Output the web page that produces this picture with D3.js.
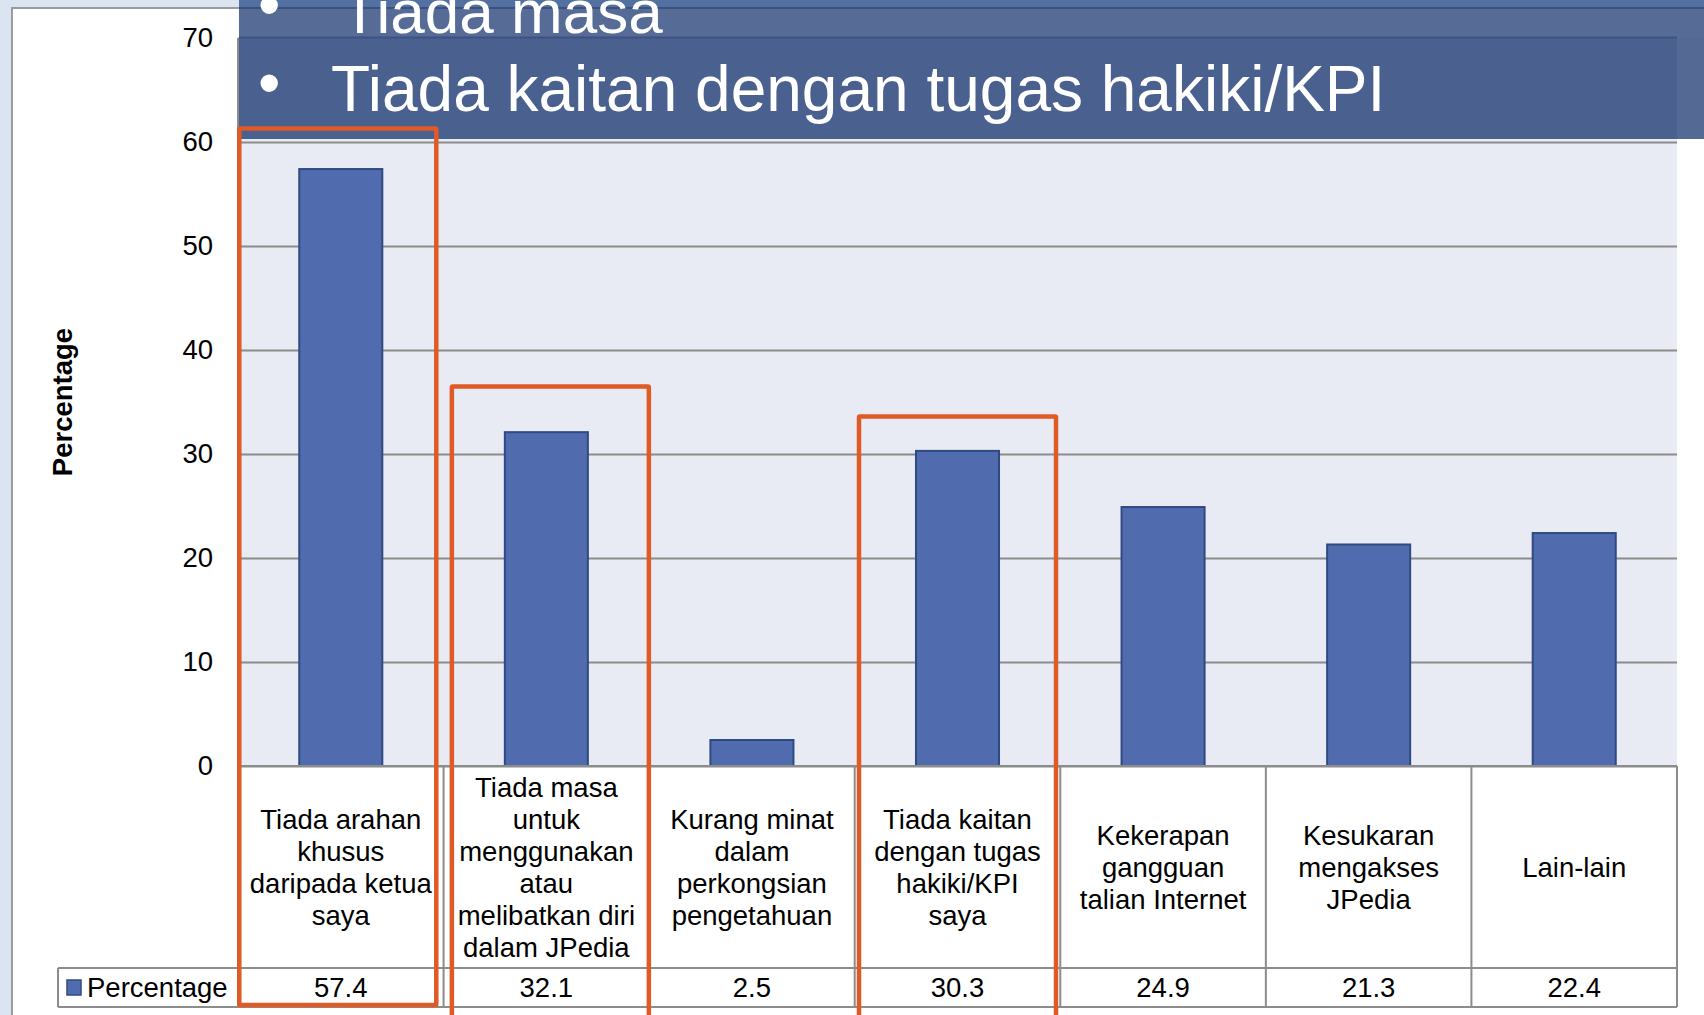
<!DOCTYPE html>
<html>
<head>
<meta charset="utf-8">
<script src="https://cdnjs.cloudflare.com/ajax/libs/d3/7.8.5/d3.min.js"></script>
<style>
  body { margin: 0; background: #dae5f1; }
  svg { display: block; font-family: "Liberation Sans", Arial, sans-serif; }
</style>
</head>
<body>
<div id="chart"></div>
<script>
// chart values
var categories = ["c1", "c2", "c3", "c4", "c5", "c6", "c7"]
var categoryLines = [
  ["Tiada arahan", "khusus", "daripada ketua", "saya"],
  ["Tiada masa", "untuk", "menggunakan", "atau", "melibatkan diri", "dalam JPedia"],
  ["Kurang minat", "dalam", "perkongsian", "pengetahuan"],
  ["Tiada kaitan", "dengan tugas", "hakiki/KPI", "saya"],
  ["Kekerapan", "gangguan", "talian Internet"],
  ["Kesukaran", "mengakses", "JPedia"],
  ["Lain-lain"]
]
var percentage = [57.4, 32.1, 2.5, 30.3, 24.9, 21.3, 22.4]
var yTicks = [0, 10, 20, 30, 40, 50, 60, 70]
var seriesName = "Percentage"

// highlighted categories (orange boxes) and top of each box in axis units
var highlightIdx = [0, 1, 3]
var highlightTop = [61.3, 36.5, 33.6]

var bannerLines = ["Tiada masa", "Tiada kaitan dengan tugas hakiki/KPI"]

var W = 1704, H = 1015
var plotLeft = 238, plotRight = 1677, plotTop = 38, plotBase = 766
var rowTop = 968, rowBottom = 1007, legendLeft = 58

var xScale = d3.scaleBand().domain(categories).range([plotLeft, plotRight]).padding(0)
var yScale = d3.scaleLinear().domain([0, 70]).range([plotBase, plotTop])
var bw = xScale.bandwidth()

var svg = d3.select("#chart").append("svg")
    .attr("width", W)
    .attr("height", H)

// slide background and chart area
svg.append("rect").attr("width", W).attr("height", H).attr("fill", "#dae5f1")
svg.append("rect").attr("x", 12).attr("y", 8).attr("width", W).attr("height", H)
  .attr("fill", "white").attr("stroke", "#9a9a9a").attr("stroke-width", 2)

// plot background
svg.append("rect").attr("x", plotLeft).attr("y", plotTop)
  .attr("width", plotRight - plotLeft).attr("height", plotBase - plotTop)
  .attr("fill", "#e8ebf3")

// gridlines
svg.append("g")
  .attr("transform", "translate(" + plotLeft + ",0)")
  .call(d3.axisLeft(yScale).tickValues(yTicks).tickSize(-(plotRight - plotLeft)).tickFormat(""))
  .call(function(g) { g.select(".domain").remove() })
  .selectAll("line").attr("stroke", "#8c8c8c").attr("stroke-width", 2)

// left edge of plot
svg.append("line").attr("x1", plotLeft).attr("x2", plotLeft).attr("y1", plotTop).attr("y2", plotBase)
  .attr("stroke", "#8c8c8c").attr("stroke-width", 2)

// y axis labels
var yAxis = svg.append("g")
  .attr("transform", "translate(" + plotLeft + ",0)")
  .call(d3.axisLeft(yScale).tickValues(yTicks).tickSize(0).tickPadding(25))
yAxis.select(".domain").remove()
yAxis.selectAll("text")
  .style("font-size", "27.5px")
  .style("font-family", "Liberation Sans, Arial, sans-serif")
  .attr("fill", "#000")

svg.append("text")
  .attr("transform", "translate(72,402) rotate(-90)")
  .attr("text-anchor", "middle")
  .style("font-size", "27.5px")
  .style("font-weight", "bold")
  .text(seriesName)

// bars
var barW = bw * 0.404
svg.append("g").selectAll("rect")
  .data(percentage)
  .enter().append("rect")
  .attr("x", function(d, i) { return xScale(categories[i]) + (bw - barW) / 2 })
  .attr("y", function(d) { return yScale(d) })
  .attr("width", barW)
  .attr("height", function(d) { return yScale(0) - yScale(d) })
  .attr("fill", "#506cae")
  .attr("stroke", "#2f4a82")
  .attr("stroke-width", 2)

// data table
var tbl = svg.append("g").attr("stroke", "#8c8c8c").attr("stroke-width", 2)
tbl.append("line").attr("x1", plotLeft).attr("x2", plotRight).attr("y1", plotBase).attr("y2", plotBase)
tbl.append("line").attr("x1", legendLeft).attr("x2", plotRight).attr("y1", rowTop).attr("y2", rowTop)
tbl.append("line").attr("x1", legendLeft).attr("x2", plotRight).attr("y1", rowBottom).attr("y2", rowBottom)
tbl.append("line").attr("x1", legendLeft).attr("x2", legendLeft).attr("y1", rowTop).attr("y2", rowBottom)
categories.concat(["end"]).forEach(function(c, i) {
  var xx = i < categories.length ? xScale(c) : plotRight
  tbl.append("line").attr("x1", xx).attr("x2", xx).attr("y1", plotBase).attr("y2", rowBottom)
})

// category labels
var labelMid = (plotBase + rowTop) / 2
var lh = 32
categoryLines.forEach(function(lines, i) {
  var cx = xScale(categories[i]) + bw / 2
  var first = labelMid - (lines.length - 1) * lh / 2 + 10
  var t = svg.append("text")
    .attr("text-anchor", "middle")
    .style("font-size", "27.5px")
    .attr("fill", "#000")
  lines.forEach(function(l, j) {
    t.append("tspan").attr("x", cx).attr("y", first + j * lh).text(l)
  })
})

// values row
svg.append("g").selectAll("text")
  .data(percentage)
  .enter().append("text")
  .attr("x", function(d, i) { return xScale(categories[i]) + bw / 2 })
  .attr("y", 997)
  .attr("text-anchor", "middle")
  .style("font-size", "27.5px")
  .text(function(d) { return d.toFixed(1) })

// legend key
svg.append("rect").attr("x", 67).attr("y", 980).attr("width", 14).attr("height", 15)
  .attr("fill", "#506cae").attr("stroke", "#2f4a82").attr("stroke-width", 1.5)
svg.append("text").attr("x", 87).attr("y", 997)
  .style("font-size", "27.5px").text(seriesName)

// banner
svg.append("rect").attr("x", 239).attr("y", 0).attr("width", W - 239).attr("height", 38)
  .attr("fill", "#576b97")
svg.append("rect").attr("x", 239).attr("y", 0).attr("width", W - 239).attr("height", 8)
  .attr("fill", "#5270a0")
svg.append("line").attr("x1", 239).attr("x2", W).attr("y1", 8).attr("y2", 8)
  .attr("stroke", "#3b5180").attr("stroke-width", 2)
svg.append("rect").attr("x", 239).attr("y", 38).attr("width", plotRight - 239).attr("height", 101)
  .attr("fill", "#4a6190")
svg.append("rect").attr("x", plotRight).attr("y", 38).attr("width", W - plotRight).attr("height", 101)
  .attr("fill", "#546994")
svg.append("line").attr("x1", 239).attr("x2", plotRight).attr("y1", 37.5).attr("y2", 37.5)
  .attr("stroke", "#3d5384").attr("stroke-width", 2)

var bannerY = [33, 111]
var bannerX = [341, 331]
bannerLines.forEach(function(l, i) {
  svg.append("text").attr("x", 258).attr("y", bannerY[i] - 6)
    .attr("fill", "white").style("font-size", "64px").text("\u2022")
  svg.append("text").attr("x", bannerX[i]).attr("y", bannerY[i])
    .attr("fill", "white").style("font-size", i === 0 ? "62px" : "64px").text(l)
})

// orange highlight boxes
var boxW = 197
var boxShift = [-3, 4, 0]
highlightIdx.forEach(function(ci, k) {
  var cx = xScale(categories[ci]) + bw / 2 + boxShift[k]
  var y0 = yScale(highlightTop[k])
  svg.append("rect")
    .attr("x", cx - boxW / 2)
    .attr("y", y0)
    .attr("width", boxW)
    .attr("height", k === 0 ? 1005 - y0 : H + 20 - y0)
    .attr("fill", "none")
    .attr("stroke", "#e05a26")
    .attr("stroke-width", 4.5)
    .attr("rx", 1)
})
</script>
</body>
</html>
